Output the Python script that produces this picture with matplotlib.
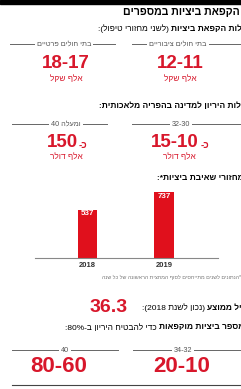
import re
import matplotlib
matplotlib.use("Agg")
import matplotlib.pyplot as plt
from matplotlib.lines import Line2D
from matplotlib.patches import Rectangle

W, H = 241, 389
RED = "#d8172b"
GRAY = "#555555"

# ---- data ----
title = "הקפאת ביציות במספרים"
cost_heading_bold = "עלות הקפאת ביציות"
cost_heading_reg = "(לשני מחזורי טיפול):"
cost_groups = ["בתי חולים ציבוריים", "בתי חולים פרטיים"]
cost_values = ["12-11", "18-17"]
cost_unit = "אלף שקל"

preg_heading = "עלות היריון למדינה בהפריה מלאכותית:"
preg_groups = ["32-30", "40 ומעלה"]
preg_values = ["15-10", "150"]
preg_prefix = "כ-"
preg_unit = "אלף דולר"

cycles_heading = "מחזורי שאיבת ביציות*:"
years = ["2018", "2019"]
cycles = [537, 737]
footnote = "*הנתונים לשנים מתייחסים לסוף המחצית הראשונה של כל שנה"

age_bold = "גיל ממוצע"
age_reg = "(נכון לשנת 2018):"
age_value = "36.3"

eggs_bold = "מספר ביציות מוקפאות"
eggs_reg = "כדי להבטיח היריון ב-80%:"
eggs_groups = ["34-32", "40"]
eggs_values = ["20-10", "80-60"]

HEB = ["Liberation Sans", "DejaVu Sans"]
NUM = ["Liberation Sans", "DejaVu Sans"]


def rtl(s):
    """Convert logical RTL string to visual order for LTR rendering."""
    toks = re.findall(r"\d+(?:[.,\-]\d+)*%?|.", s)
    out = []
    swap = {"(": ")", ")": "(", "[": "]", "]": "["}
    for t in reversed(toks):
        out.append(swap.get(t, t))
    return "".join(out)


fig = plt.figure(figsize=(W / 100, H / 100), dpi=100)
fig.patch.set_facecolor("white")


def fx(x):
    return x / W


def fy(y):
    return 1 - y / H


def txt(x, y, s, size, color="black", weight="normal", ha="center", family=HEB, **kw):
    return fig.text(fx(x), fy(y), s, fontsize=size, color=color, weight=weight,
                    ha=ha, va="center", family=family, **kw)


renderer = fig.canvas.get_renderer()


def rich(xr, y, parts, size):
    """parts: list of (logical text, weight) in reading (right-to-left) order."""
    x = xr
    for s, w in parts:
        t = txt(x, y, rtl(s), size, weight=w, ha="right")
        bb = t.get_window_extent(renderer)
        x = x - bb.width - 2.0


def hline(x0, x1, y, color="#666666", lw=0.7):
    fig.add_artist(Line2D([fx(x0), fx(x1)], [fy(y), fy(y)], color=color, lw=lw,
                          transform=fig.transFigure))


def header(xc, y, x0, x1, s):
    hline(x0, x1, y)
    txt(xc, y, s, 5.2, color=GRAY,
        bbox=dict(facecolor="white", edgecolor="none", pad=1.5))


# top bar
fig.add_artist(Rectangle((0, fy(3.5)), 1, 3.5 / H, color="black",
                         transform=fig.transFigure))

# title
txt(240, 12, rtl(title), 7.6, weight="bold", ha="right")

# section 1
rich(247, 29, [(cost_heading_bold, "bold"), (cost_heading_reg, "normal")], 6.0)
cx = [180, 66]
spans = [(132, 241), (10, 115)]
for i in range(2):
    header(cx[i] - 2, 44, spans[i][0], spans[i][1], rtl(cost_groups[i]))
    txt(cx[i], 63, cost_values[i], 13.5, color=RED, weight="bold", family=NUM)
    txt(cx[i], 79, rtl(cost_unit), 6.0, color=RED)

# section 2
rich(246, 106, [(preg_heading, "bold")], 6.0)
cx2 = [181, 66]
spans2 = [(132, 241), (12, 107)]
numc = [175, 62]
for i in range(2):
    g = preg_groups[i]
    if " " in g:
        num, word = g.split(" ", 1)
        label = num + " " + rtl(word)
    else:
        label = g
    header(cx2[i], 124, spans2[i][0], spans2[i][1], label)
    t = txt(numc[i], 142, preg_values[i], 13.5, color=RED, weight="bold", family=NUM)
    bb = t.get_window_extent(renderer)
    fig.text(bb.x1 / W + 1.5 / W, fy(145), rtl(preg_prefix), fontsize=7, color=RED,
             weight="bold", ha="left", va="center", family=HEB)
    txt(numc[i] + 4, 157, rtl(preg_unit), 6.0, color=RED)

# section 3
rich(244, 179, [(cycles_heading, "bold")], 6.0)
ax = fig.add_axes([fx(35), fy(258), (218 - 35) / W, 70 / H])
xs = list(range(len(years)))
ax.bar(xs, cycles, width=0.255, color="#e0101c", zorder=2)
ax.set_xlim(-0.686, 1.706)
ax.set_ylim(0, 782)
for sp in ["top", "right", "left"]:
    ax.spines[sp].set_visible(False)
ax.spines["bottom"].set_color("#888888")
ax.spines["bottom"].set_linewidth(0.8)
ax.set_yticks([])
ax.set_xticks(xs)
ax.set_xticklabels(years, fontsize=5.5, color="#333333", weight="bold", family=NUM)
ax.tick_params(axis="x", length=0, pad=3)
ax.patch.set_alpha(0)
for xi, v in zip(xs, cycles):
    ax.text(xi, v - 45, str(v), ha="center", va="center", color="white",
            fontsize=5.8, weight="bold", family=NUM)
txt(241, 277, rtl(footnote), 3.9, color="#777777", ha="right")

# section 4
rich(246, 308, [(age_bold, "bold"), (age_reg, "normal")], 6.0)
txt(109, 308, age_value, 14, color=RED, weight="bold", family=NUM)
rich(244, 328, [(eggs_bold, "bold"), (eggs_reg, "normal")], 6.0)
cx4 = [183, 65]
spans4 = [(133, 241), (12, 118)]
numc4 = [182, 59]
for i in range(2):
    header(cx4[i], 350, spans4[i][0], spans4[i][1], eggs_groups[i])
    txt(numc4[i], 367, eggs_values[i], 16, color=RED, weight="bold", family=NUM)

hline(12, 241, 385, color="#444444", lw=0.8)

fig.savefig("out.png", dpi=100)
